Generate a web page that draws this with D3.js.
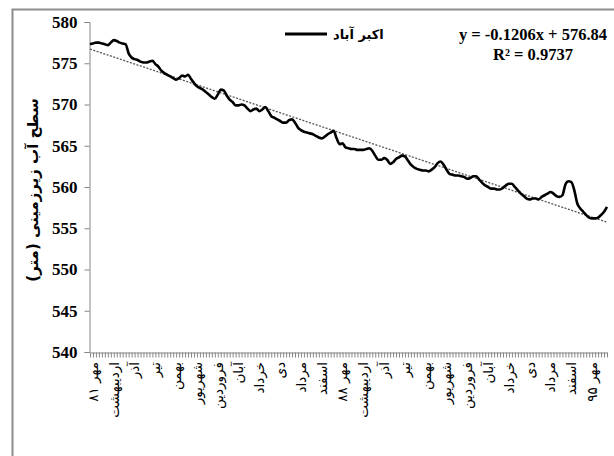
<!DOCTYPE html>
<html>
<head>
<meta charset="utf-8">
<script src="https://cdn.jsdelivr.net/npm/d3@7"></script>
<style>
  html, body { margin: 0; padding: 0; background: #fff; }
  svg { display: block; }
</style>
</head>
<body>
<svg id="chart" width="614" height="456"></svg>
<script>
// Monthly groundwater level (m), Akbarabad well, Mehr 81 onward
const levels = [
  577.3, 577.4, 577.5, 577.5, 577.4, 577.3, 577.2, 577.5, 577.8, 577.7, 577.5, 577.4,
  577.3, 576.2, 575.7, 575.5, 575.4, 575.2, 575.1, 575.1, 575.2, 575.3, 574.9, 574.6,
  574.1, 573.8, 573.6, 573.4, 573.2, 573.0, 573.2, 573.5, 573.4, 573.6, 573.1, 572.6,
  572.2, 572.0, 571.8, 571.5, 571.2, 570.9, 570.7, 571.2, 571.8, 571.7, 571.1, 570.6,
  570.3, 569.9, 569.9, 570.0, 569.9, 569.5, 569.2, 569.4, 569.5, 569.2, 569.4, 569.7,
  569.2, 568.6, 568.4, 568.2, 568.0, 567.8, 567.8, 568.1, 568.2, 567.8, 567.2, 566.9,
  566.7, 566.6, 566.5, 566.4, 566.2, 566.0, 565.9, 566.1, 566.4, 566.6, 566.8, 565.9,
  565.2, 565.3, 564.8, 564.7, 564.6, 564.6, 564.5, 564.5, 564.5, 564.6, 564.7, 564.4,
  563.8, 563.3, 563.3, 563.5, 563.3, 562.8, 563.0, 563.4, 563.6, 563.8, 563.7, 563.2,
  562.7, 562.4, 562.2, 562.1, 562.0, 562.0, 561.9, 562.1, 562.4, 562.9, 563.1, 562.7,
  562.1, 561.6, 561.5, 561.4, 561.4, 561.3, 561.2, 561.0, 561.1, 561.3, 561.3, 560.9,
  560.5, 560.2, 560.0, 559.8, 559.8, 559.7, 559.7, 559.9, 560.2, 560.4, 560.4, 560.0,
  559.6, 559.2, 558.9, 558.6, 558.5, 558.6, 558.6, 558.5, 558.8, 559.0, 559.2, 559.4,
  559.2, 558.9, 558.8, 559.0, 560.3, 560.7, 560.6, 559.6, 558.0, 557.4, 557.0, 556.6,
  556.3, 556.2, 556.2, 556.3, 556.6, 557.0, 557.6
];

// Month labels shown every seventh month
const monthLabels = [
  "مهر ۸۱", "اردیبهشت", "آذر", "تیر", "بهمن", "شهریور", "فروردین", "آبان", "خرداد",
  "دی", "مرداد", "اسفند", "مهر ۸۸", "اردیبهشت", "آذر", "تیر", "بهمن", "شهریور",
  "فروردین", "آبان", "خرداد", "دی", "مرداد", "اسفند", "مهر ۹۵"
];
const labelStep = 7;

const yTicks = [540, 545, 550, 555, 560, 565, 570, 575, 580];

// Linear trend (x counted from 1)
const trendSlope = -0.1206;
const trendIntercept = 576.84;
const trendText = ["y = -0.1206x + 576.84", "R² = 0.9737"];
const seriesName = "اکبر آباد";
const yTitle = "سطح آب زیرزمینی (متر)";

const svg = d3.select("#chart");
const axisColor = "#868686";
const serif = "'Liberation Serif', 'Times New Roman', serif";
const arabic = "'DejaVu Sans', sans-serif";

// chart frame
svg.append("rect")
  .attr("x", 12.5).attr("y", 9.5)
  .attr("width", 640).attr("height", 480)
  .attr("fill", "none").attr("stroke", "#8c8c8c").attr("stroke-width", 2);

const plotLeft = 90, plotRight = 607, plotTop = 22, plotBottom = 352;

const idx = d3.range(levels.length);
const x = d3.scalePoint().domain(idx).range([plotLeft, plotRight]);
const y = d3.scaleLinear().domain([540, 580]).range([plotBottom, plotTop]);

// y axis
const yAxis = svg.append("g")
  .attr("transform", `translate(${plotLeft - 0.5},0)`)
  .call(d3.axisLeft(y).tickValues(yTicks).tickSize(5).tickPadding(7));
yAxis.select(".domain").attr("stroke", axisColor);
yAxis.selectAll(".tick line").attr("stroke", axisColor);
yAxis.selectAll(".tick text")
  .attr("fill", "#000")
  .attr("font-family", serif)
  .attr("font-weight", "bold")
  .attr("font-size", 17);

// x axis: tick per month, label every seventh month
const xAxis = svg.append("g")
  .attr("transform", `translate(0,${plotBottom + 0.5})`)
  .call(d3.axisBottom(x).tickSize(5).tickSizeOuter(0).tickFormat(""));
xAxis.select(".domain").attr("stroke", axisColor);
xAxis.selectAll(".tick line").attr("stroke", axisColor);

svg.append("g").selectAll("text")
  .data(monthLabels)
  .join("text")
  .attr("transform", (d, i) => `translate(${x(i * labelStep) + 3},${plotBottom + 10}) rotate(-90)`)
  .attr("text-anchor", "end")
  .attr("dy", "0.35em")
  .attr("font-family", arabic)
  .attr("font-size", 13.5)
  .attr("fill", "#000")
  .text(d => d);

// y axis title
svg.append("text")
  .attr("transform", `translate(33,${(plotTop + plotBottom) / 2 + 3}) rotate(-90)`)
  .attr("text-anchor", "middle")
  .attr("dy", "0.35em")
  .attr("font-family", arabic)
  .attr("font-weight", "bold")
  .attr("font-size", 15)
  .text(yTitle);

// trend line (dotted)
const first = 0, last = levels.length - 1;
svg.append("line")
  .attr("x1", x(first)).attr("y1", y(trendSlope * (first + 1) + trendIntercept))
  .attr("x2", x(last)).attr("y2", y(trendSlope * (last + 1) + trendIntercept))
  .attr("stroke", "#555").attr("stroke-width", 1.3)
  .attr("stroke-dasharray", "2,1.5");

// observed levels
svg.append("path")
  .datum(levels)
  .attr("fill", "none")
  .attr("stroke", "#000")
  .attr("stroke-width", 2.6)
  .attr("stroke-linejoin", "round")
  .attr("d", d3.line().x((d, i) => x(i)).y(d => y(d)).curve(d3.curveMonotoneX));

// legend
svg.append("line")
  .attr("x1", 285).attr("x2", 327).attr("y1", 34).attr("y2", 34)
  .attr("stroke", "#000").attr("stroke-width", 3);
svg.append("text")
  .attr("x", 333).attr("y", 34).attr("dy", "0.35em")
  .attr("text-anchor", "start")
  .attr("font-family", arabic)
  .attr("font-weight", "bold")
  .attr("font-size", 13)
  .text(seriesName);

// trend equation
svg.append("g").selectAll("text")
  .data(trendText)
  .join("text")
  .attr("x", 533)
  .attr("y", (d, i) => 40 + i * 20)
  .attr("text-anchor", "middle")
  .attr("font-family", serif)
  .attr("font-weight", "bold")
  .attr("font-size", 16.5)
  .text(d => d);
</script>
</body>
</html>
